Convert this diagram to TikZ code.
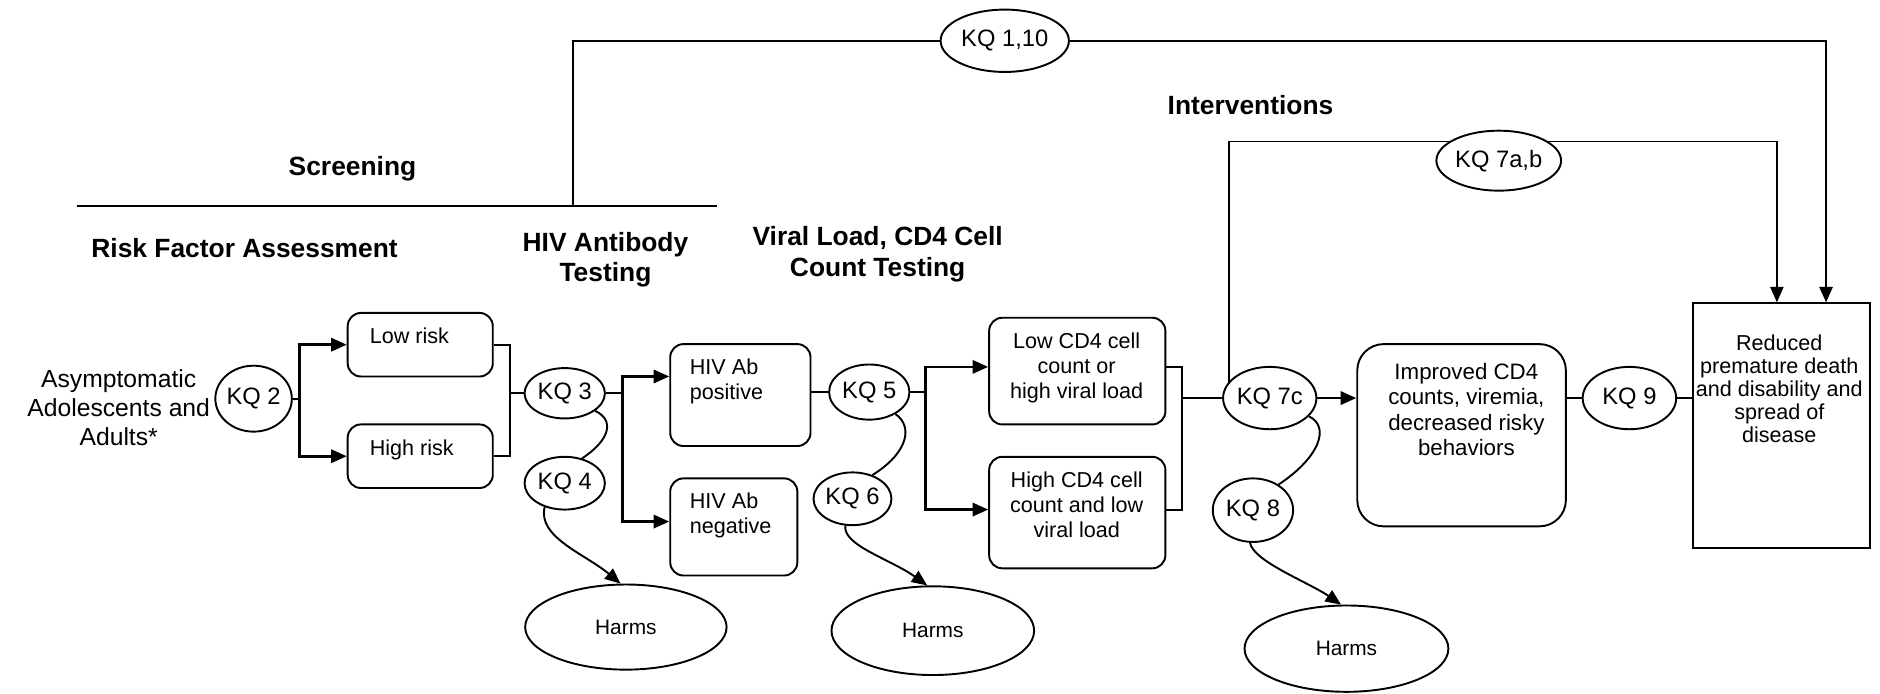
\documentclass[tikz,border=0pt]{standalone}
\usepackage{fontspec}
\setmainfont{Liberation Sans}
\usetikzlibrary{shapes.geometric,arrows.meta}
\pgfdeclarelayer{background}
\pgfsetlayers{background,main}

\begin{document}
\begin{tikzpicture}[x=0.5pt,y=-0.5pt,
  line/.style={line width=0.8pt},
  thick line/.style={line width=1.1pt},
  tip/.style={-{Triangle[length=6.5pt,width=5.5pt]}},
  arr/.style={line width=1.1pt,tip},
  carr/.style={line width=0.8pt,tip},
  kq/.style={ellipse,draw,line width=0.8pt,fill=white,inner sep=0pt,
    font=\fontsize{9.9}{11}\selectfont},
  harm/.style={ellipse,draw,line width=0.8pt,fill=white,inner sep=0pt,
    font=\fontsize{8.7}{10}\selectfont},
  rbox/.style={draw,rounded corners=5.5pt,line width=0.8pt,fill=white,inner sep=0pt},
  txt/.style={font=\fontsize{9}{10.5}\selectfont,inner sep=0pt,align=center},
  head/.style={font=\bfseries\fontsize{11}{12.5}\selectfont,inner sep=0pt,align=center}]

\useasboundingbox (0,0) rectangle (1568,578);

% ---------- headings ----------
\node[head] (hscr) at (294,141) {Screening};
\node[head] (hrisk) at (204,207) {Risk Factor Assessment};
\node[head] (hab) at (505,216.5) {HIV Antibody\\Testing};
\node[head,font=\bfseries\fontsize{11}{13}\selectfont] (hvl) at (732,212) {Viral Load, CD4 Cell\\Count Testing};
\node[head] (hint) at (1043,88) {Interventions};

% ---------- population ----------
\node[txt,font=\fontsize{10.3}{12.25}\selectfont] (asym) at (99,340) {Asymptomatic\\Adolescents and\\Adults*};
\node[kq,minimum width=26.5pt,minimum height=27.5pt] (kq2) at (211.5,332.5) {KQ 2};

% ---------- risk boxes ----------
\node[rbox,minimum width=60.5pt,minimum height=26.5pt] (low) at (350.5,287.5) {};
\node[rbox,minimum width=60.5pt,minimum height=26.5pt] (high) at (350.5,380.5) {};
\node[txt,anchor=west,text height=6.3pt,text depth=0pt] (lowt) at (308,280) {Low risk};
\node[txt,anchor=west,text height=6.3pt,text depth=0pt] (hight) at (308,374) {High risk};

% ---------- antibody testing ----------
\node[kq,minimum width=33.5pt,minimum height=21pt] (kq3) at (471,328) {KQ 3};
\node[kq,minimum width=33.5pt,minimum height=22pt] (kq4) at (471,403) {KQ 4};
\node[rbox,minimum width=58.5pt,minimum height=42.5pt] (pos) at (617.5,329.5) {};
\node[rbox,minimum width=53pt,minimum height=40.5pt] (neg) at (612,439.5) {};
\node[txt,anchor=west,align=left] (post) at (575,318) {HIV Ab\\positive};
\node[txt,anchor=west,align=left] (negt) at (575,430) {HIV Ab\\negative};
\node[harm,minimum width=84pt,minimum height=35.5pt] (h1) at (522,523) {Harms};

% ---------- CD4 / viral load ----------
\node[kq,minimum width=33.5pt,minimum height=23pt] (kq5) at (725,327) {KQ 5};
\node[kq,minimum width=32.5pt,minimum height=22pt] (kq6) at (711,416) {KQ 6};
\node[rbox,minimum width=73.5pt,minimum height=44.5pt] (lcd) at (898.5,309.5) {};
\node[rbox,minimum width=73.5pt,minimum height=46.5pt] (hcd) at (898.5,427.5) {};
\node[txt] (lcdt) at (898,307) {Low CD4 cell\\count or\\high viral load};
\node[txt] (hcdt) at (898,421) {High CD4 cell\\count and low\\viral load};
\node[harm,minimum width=84.5pt,minimum height=37pt] (h2) at (778,526) {Harms};

% ---------- interventions ----------
\node[kq,minimum width=33.5pt,minimum height=26pt] (kq7c) at (1059,332) {KQ 7c};
\node[kq,minimum width=33.5pt,minimum height=26.5pt] (kq8) at (1045,425.5) {KQ 8};
\node[harm,minimum width=85pt,minimum height=36pt] (h3) at (1123,541) {Harms};
\node[draw,rounded corners=11pt,line width=0.8pt,fill=white,inner sep=0pt,
      minimum width=87pt,minimum height=76pt] (imp) at (1219,363) {};
\node[txt,font=\fontsize{9.3}{10.5}\selectfont] (impt) at (1223,341.5)
  {Improved CD4\\counts, viremia,\\decreased risky\\behaviors};
\node[kq,minimum width=39pt,minimum height=26pt] (kq9) at (1359,332) {KQ 9};

% ---------- outcome ----------
\node[draw,line width=0.8pt,fill=white,inner sep=0pt,
      minimum width=74pt,minimum height=102pt] (red) at (1486,355) {};
\node[txt,font=\fontsize{9}{9.6}\selectfont] (redt) at (1484,324.5)
  {Reduced\\premature death\\and disability and\\spread of\\disease};

% ---------- overarching questions ----------
\node[kq,minimum width=53.5pt,minimum height=26pt] (kq110) at (838,34) {KQ 1,10};
\node[kq,minimum width=52pt,minimum height=25pt] (kq7ab) at (1250,134) {KQ 7a,b};

% ---------- junction points ----------
\coordinate (scrL) at (64,172);
\coordinate (scrR) at (598,172);
\coordinate (s1) at (478,172);
\coordinate (s1t) at (478,34);
\coordinate (r2) at (1523,0);
\coordinate (t7) at (1025,332);
\coordinate (t7a) at (1025,118);
\coordinate (r1) at (1482,0);
\coordinate (b1) at (250,332.5);
\coordinate (m1) at (425,328);
\coordinate (b2) at (519,328);
\coordinate (b2t) at (519,314);
\coordinate (b2b) at (519,435);
\coordinate (b3) at (772,327);
\coordinate (b3t) at (772,306);
\coordinate (b3b) at (772,425);
\coordinate (j1) at (986,306);
\coordinate (j2) at (986,425);
\coordinate (jm) at (986,332);

\begin{pgfonlayer}{background}
% screening bar and KQ 1,10 path
\draw[line] (scrL) -- (scrR);
\draw[line width=1pt] (s1) -- (s1t) -- (kq110);
\draw[line width=1pt,tip] (kq110) -| (r2 |- red.north);

% KQ 7a,b path, running behind its ellipse
\draw[line,tip] (t7) -- (t7a) -| (r1 |- red.north);

% risk factor assessment
\draw[line] (kq2) -- (b1);
\draw[arr] (b1) |- (low.west);
\draw[arr] (b1) |- (high.west);
\draw[line] (low.east) -| (m1) |- (high.east);
\draw[line] (m1) -- (kq3);

% antibody testing
\draw[line] (kq3) -- (b2);
\draw[arr] (b2) |- (b2t -| pos.west);
\draw[arr] (b2) |- (b2b -| neg.west);
\draw[line] (kq3.-30) .. controls (512,350) and (510,366) .. (kq4.55);
\draw[carr] (kq4.-130) .. controls (448,448) and (488,462) .. (h1.97);

% CD4 / viral load testing
\draw[line] (kq5 -| pos.east) -- (kq5);
\draw[line] (kq5) -- (b3);
\draw[arr] (b3) |- (b3t -| lcd.west);
\draw[arr] (b3) |- (b3b -| hcd.west);
\draw[line] (kq5.-40) .. controls (762,356) and (757,378) .. (kq6.50);
\draw[carr] (kq6.-105) .. controls (703,455) and (742,466) .. (h2.97);
\draw[line] (j1 -| lcd.east) -- (j1) -- (j2) -- (j2 -| hcd.east);
\draw[thick line] (jm) -- (kq7c);

% interventions
\draw[arr] (kq7c) -- (imp.west |- kq7c);
\draw[line] (kq7c.-25) .. controls (1110,356) and (1100,382) .. (kq8.45);
\draw[carr] (kq8.-95) .. controls (1045,468) and (1092,486) .. (h3.97);
\draw[line] (imp.east |- kq9) -- (kq9);
\draw[line] (kq9) -- (red.west |- kq9);
\end{pgfonlayer}
\end{tikzpicture}
\end{document}
